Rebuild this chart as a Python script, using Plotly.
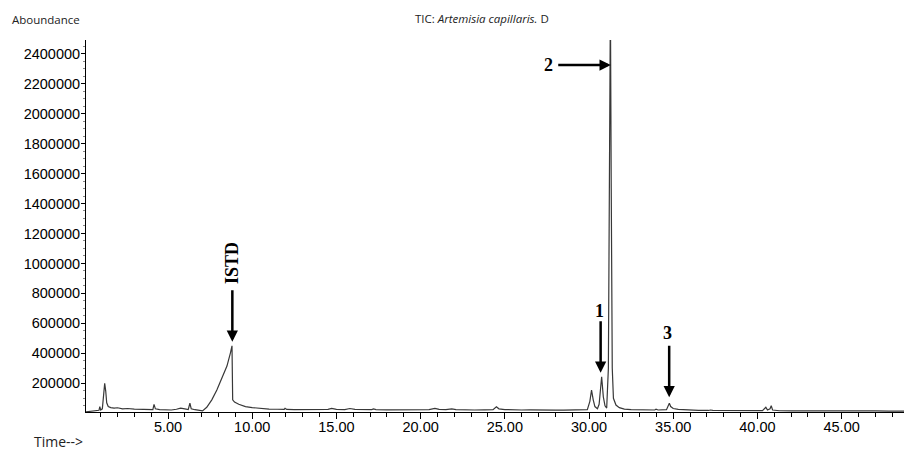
import plotly.graph_objects as go

# ---- data ----
time_min = [0.13, 0.4, 0.7, 0.9, 0.95, 1.0, 1.1, 1.17, 1.24, 1.3, 1.36, 1.45, 1.6, 1.8, 2.0,
            2.3, 2.6, 3.0, 3.4, 3.8, 4.1, 4.17, 4.25, 4.5, 4.9, 5.2, 5.5, 5.75, 6.0, 6.2,
            6.3, 6.38, 6.6, 6.9, 7.05, 7.3, 7.6, 7.9, 8.2, 8.5, 8.7, 8.8, 8.84, 8.95, 9.2,
            9.6, 10.0, 10.5, 11.0, 11.5, 11.9, 11.95, 12.05, 12.5, 13.0, 13.5, 14.0, 14.5,
            14.72, 15.0, 15.5, 15.8, 16.1, 16.6, 17.1, 17.2, 17.35, 18.0, 18.5, 19.0, 19.5,
            20.0, 20.5, 20.85, 21.1, 21.5, 21.85, 22.1, 22.6, 23.2, 23.8, 24.3, 24.5, 24.65,
            25.0, 25.5, 26.0, 26.5, 27.0, 27.5, 28.0, 28.5, 29.0, 29.5, 29.9, 30.05, 30.15,
            30.25, 30.35, 30.5, 30.6, 30.75, 30.85, 30.95, 31.05, 31.15, 31.22, 31.27, 31.32,
            31.38, 31.45, 31.6, 31.8, 32.1, 32.5, 33.0, 33.5, 33.9, 33.98, 34.1, 34.6, 34.7,
            34.77, 34.85, 35.0, 35.3, 35.8, 36.5, 37.1, 37.2, 37.35, 38.0, 38.4, 38.55, 39.2,
            39.8, 40.3, 40.5, 40.6, 40.75, 40.82, 40.9, 41.3, 42.0, 42.8, 43.5, 44.2, 44.6,
            44.8, 45.5, 46.3, 47.0, 47.8, 48.5, 49.12]
abundance = [10000, 14000, 16000, 20000, 44000, 22000, 30000, 120000, 200000, 150000, 70000,
             45000, 38000, 35000, 37000, 30000, 32000, 28000, 25000, 22000, 24000, 60000,
             30000, 25000, 21000, 22000, 27000, 35000, 30000, 25000, 67000, 30000, 24000,
             20000, 16000, 40000, 90000, 155000, 230000, 315000, 400000, 450000, 90000, 75000,
             60000, 45000, 38000, 32000, 28000, 27000, 26000, 33000, 26000, 24000, 25000,
             23000, 24000, 26000, 33000, 26000, 25000, 32000, 26000, 24000, 25000, 29000,
             25000, 23000, 24000, 23000, 22000, 23000, 25000, 33000, 26000, 24000, 30000,
             24000, 22000, 22000, 23000, 24000, 44000, 30000, 25000, 22000, 22000, 23000,
             21000, 22000, 21000, 21000, 22000, 22000, 24000, 80000, 155000, 90000, 45000,
             30000, 60000, 244000, 110000, 50000, 35000, 300000, 2000000, 2750000, 1500000,
             300000, 100000, 55000, 38000, 28000, 24000, 22000, 21000, 22000, 27000, 22000,
             24000, 50000, 67000, 45000, 32000, 26000, 22000, 20000, 19000, 22000, 19000,
             18000, 21000, 18000, 17000, 17000, 18000, 40000, 22000, 30000, 51000, 22000,
             17000, 16000, 16000, 16000, 17000, 21000, 17000, 16000, 16000, 16000, 15000,
             15000, 15000]

y_tick_vals = [200000, 400000, 600000, 800000, 1000000, 1200000, 1400000, 1600000,
               1800000, 2000000, 2200000, 2400000]
y_tick_text = [str(v) for v in y_tick_vals]
x_tick_vals = [5, 10, 15, 20, 25, 30, 35, 40, 45]
x_tick_text = ["%.2f" % v for v in x_tick_vals]

# labelled peaks: (label, retention time, arrow tip abundance)
peak_labels = ["ISTD", "1", "2", "3"]
peak_times = [8.82, 30.69, 31.29, 34.76]
peak_tips = [478000, 271000, 2324000, 107000]

fig = go.Figure()
fig.add_trace(go.Scatter(x=time_min, y=abundance, mode="lines",
                         line=dict(color="#383838", width=1.2),
                         hoverinfo="skip", showlegend=False))

serif = dict(family="Liberation Serif", size=18, color="black")
ann = []
for lab, t, v in zip(peak_labels, peak_times, peak_tips):
    if lab == "2":
        ann.append(dict(x=t, y=v, xref="x", yref="y", text="", showarrow=True,
                        ax=-54, ay=0, arrowhead=2, arrowsize=0.9, arrowwidth=2.5,
                        arrowcolor="black", standoff=0))
    else:
        ann.append(dict(x=t, y=v, xref="x", yref="y", text="", showarrow=True,
                        ax=0, ay=-53, arrowhead=2, arrowsize=0.9, arrowwidth=2.5,
                        arrowcolor="black", standoff=0))

ann.append(dict(x=peak_times[0], y=peak_tips[0], xref="x", yref="y", text="<b>ISTD</b>",
                showarrow=False, textangle=-90, font=serif, yshift=79, xshift=-1))
ann.append(dict(x=peak_times[1], y=peak_tips[1], xref="x", yref="y", text="<b>1</b>",
                showarrow=False, font=serif, yshift=62, xshift=-1))
ann.append(dict(x=peak_times[2], y=peak_tips[2], xref="x", yref="y", text="<b>2</b>",
                showarrow=False, font=serif, xshift=-62, yshift=0))
ann.append(dict(x=peak_times[3], y=peak_tips[3], xref="x", yref="y", text="<b>3</b>",
                showarrow=False, font=serif, yshift=64, xshift=-2))

# header / axis captions
ann.append(dict(x=-0.0921, y=1.0538, xref="paper", yref="paper", text="Aboundance",
                showarrow=False, xanchor="left", yanchor="middle",
                font=dict(family="Open Sans", size=11.5, color="#222")))
ann.append(dict(x=0.48, y=1.0565, xref="paper", yref="paper",
                text="TIC: <i>Artemisia capillaris.</i> D",
                showarrow=False, xanchor="center", yanchor="middle",
                font=dict(family="Open Sans", size=11.5, color="#222")))
ann.append(dict(x=-0.0655, y=-0.08, xref="paper", yref="paper", text="Time-->",
                showarrow=False, xanchor="left", yanchor="middle",
                font=dict(family="Open Sans", size=14, color="#222")))

# page body adds an 8px margin, so the figure is 8px smaller each way
fig.update_layout(
    width=904, height=444,
    margin=dict(l=78, r=1, t=32, b=40, pad=0),
    paper_bgcolor="white", plot_bgcolor="white",
    annotations=ann,
    xaxis=dict(range=[0.13, 49.12], showgrid=False, zeroline=False,
               showline=True, linecolor="black", linewidth=1,
               tickmode="array", tickvals=x_tick_vals, ticktext=x_tick_text,
               ticks="outside", ticklen=6, tickcolor="black", tickwidth=1,
               ticklabelstandoff=-4,
               tickfont=dict(family="Liberation Sans", size=14.5, color="black"),
               minor=dict(ticks="outside", dtick=1, tick0=0, ticklen=4,
                          tickcolor="black", tickwidth=1),
               fixedrange=True),
    yaxis=dict(range=[8700, 2491000], showgrid=False, zeroline=False,
               showline=True, linecolor="black", linewidth=1,
               tickmode="array", tickvals=y_tick_vals, ticktext=y_tick_text,
               ticks="outside", ticklen=4, tickcolor="black", tickwidth=1,
               ticklabelstandoff=-2,
               tickfont=dict(family="Liberation Sans", size=14.5, color="black"),
               minor=dict(ticks="outside", dtick=50000, tick0=0, ticklen=2,
                          tickcolor="#888", tickwidth=1),
               fixedrange=True),
)

fig.write_html("out.html")
